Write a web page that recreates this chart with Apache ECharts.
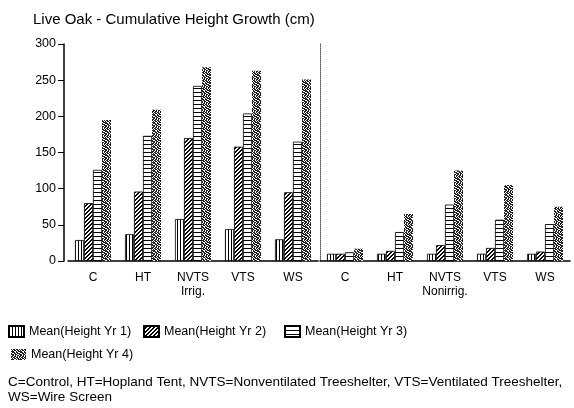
<!DOCTYPE html>
<html><head><meta charset="utf-8">
<script src="https://cdn.jsdelivr.net/npm/echarts@6/dist/echarts.min.js"></script>
<style>html,body{margin:0;padding:0;background:#fff}#c{width:574px;height:408px}</style>
</head><body><div id="c"></div>
<script>
const categories = ['C', 'HT', 'NVTS', 'VTS', 'WS'];
const groupLabels = ['Irrig.', 'Nonirrig.'];
const seriesNames = ['Mean(Height Yr 1)', 'Mean(Height Yr 2)', 'Mean(Height Yr 3)', 'Mean(Height Yr 4)'];
const yTicks = [0, 50, 100, 150, 200, 250, 300];
const irrigYr1 = [29, 37, 58, 44, 30];
const irrigYr2 = [80, 96, 170, 158, 95];
const irrigYr3 = [126, 173, 242, 204, 165];
const irrigYr4 = [195, 209, 268, 263, 251];
const nonirrigYr1 = [10, 10, 10, 10, 10];
const nonirrigYr2 = [10, 14, 22, 18, 13];
const nonirrigYr3 = [12, 40, 78, 57, 51];
const nonirrigYr4 = [17, 65, 125, 105, 75];
const title = 'Live Oak - Cumulative Height Growth (cm)';
const footnote = 'C=Control, HT=Hopland Tent, NVTS=Nonventilated Treeshelter, VTS=Ventilated Treeshelter,\nWS=Wire Screen';

function makePattern(w, h, draw) {
  const cv = document.createElement('canvas');
  cv.width = w; cv.height = h;
  const ctx = cv.getContext('2d');
  ctx.fillStyle = '#fff'; ctx.fillRect(0, 0, w, h);
  ctx.fillStyle = '#000';
  draw(ctx);
  return { image: cv, repeat: 'repeat' };
}
const pat1 = makePattern(3, 2, c => { c.fillRect(0, 0, 1, 2); });
const pat2 = makePattern(4, 4, c => {
  c.fillRect(3, 0, 1, 1); c.fillRect(2, 1, 1, 1); c.fillRect(1, 2, 1, 1); c.fillRect(0, 3, 1, 1);
  c.fillRect(2, 0, 1, 1); c.fillRect(1, 1, 1, 1); c.fillRect(0, 2, 1, 1); c.fillRect(3, 3, 1, 1);
});
const pat3 = makePattern(4, 4, c => { c.fillRect(0, 0, 4, 1); });
const stipple = [
  [1,0,1,1,0,1,1,0],
  [0,1,0,1,1,0,1,1],
  [1,1,1,0,0,1,0,1],
  [0,1,1,1,0,1,1,0],
  [1,0,0,1,1,0,1,1],
  [1,1,1,0,1,1,0,0],
  [0,1,1,0,1,0,1,1],
  [1,1,0,1,1,0,1,0]
];
const pat4 = makePattern(8, 8, c => {
  c.fillStyle = '#222';
  stipple.forEach((row, y) => row.forEach((v, x) => { if (v) c.fillRect(x, y, 1, 1); }));
});
const patterns = [pat1, pat2, pat3, pat4];

const irrig = [irrigYr1, irrigYr2, irrigYr3, irrigYr4];
const nonirrig = [nonirrigYr1, nonirrigYr2, nonirrigYr3, nonirrigYr4];

const font = 'Liberation Sans, Arial, sans-serif';
const labelFmt = (grp) => (v) => v === 'NVTS' ? 'NVTS\n' + grp : v;

const series = [];
[irrig, nonirrig].forEach((grpData, gi) => {
  grpData.forEach((arr, si) => {
    series.push({
      type: 'bar', name: seriesNames[si],
      xAxisIndex: gi, yAxisIndex: gi,
      data: arr, barWidth: 9, barGap: '0%',
      itemStyle: { color: patterns[si], borderColor: '#000', borderWidth: si === 3 ? 0 : 0.8 },
      emphasis: { disabled: true }
    });
  });
});

const legendBase = {
  icon: 'rect', itemWidth: 15, itemHeight: 11, itemGap: 6, padding: 0,
  textStyle: { fontFamily: font, fontSize: 12.5, color: '#000' },
  selectedMode: false
};

const chart = echarts.init(document.getElementById('c'), null, { renderer: 'canvas' });
chart.setOption({
  animation: false,
  backgroundColor: '#fff',
  title: { text: title, left: 28, top: 7,
    textStyle: { fontFamily: font, fontSize: 15, fontWeight: 'normal', color: '#000' } },
  grid: [
    { left: 68, width: 250, top: 44, height: 217 },
    { left: 320, width: 250, top: 44, height: 217 }
  ],
  xAxis: [0, 1].map(gi => ({
    type: 'category', gridIndex: gi, data: categories,
    axisLine: { lineStyle: { color: '#000', width: 1.5 } },
    axisTick: { show: false },
    axisLabel: { interval: 0, color: '#000', fontFamily: font, fontSize: 12, margin: 10, lineHeight: 14,
      formatter: labelFmt(groupLabels[gi]) }
  })),
  yAxis: [
    { type: 'value', gridIndex: 0, min: yTicks[0], max: yTicks[yTicks.length - 1], interval: 50, offset: 4,
      axisLine: { show: true, lineStyle: { color: '#000', width: 1.5 } },
      axisTick: { show: true, length: 6, lineStyle: { color: '#000' } },
      splitLine: { show: false },
      axisLabel: { color: '#000', fontFamily: font, fontSize: 12.5, margin: 8 } },
    { type: 'value', gridIndex: 1, min: yTicks[0], max: yTicks[yTicks.length - 1], interval: 50,
      axisLine: { show: true, lineStyle: { color: '#555', width: 1, type: [1, 1] } },
      axisTick: { show: false }, axisLabel: { show: false }, splitLine: { show: false } }
  ],
  legend: [
    Object.assign({ data: [seriesNames[0]], left: 8, top: 325 }, legendBase),
    Object.assign({ data: [seriesNames[1]], left: 143, top: 325 }, legendBase),
    Object.assign({ data: [seriesNames[2]], left: 284, top: 325 }, legendBase),
    Object.assign({ data: [seriesNames[3]], left: 11, top: 348 }, legendBase)
  ],
  graphic: [{
    type: 'text', left: 8, top: 375,
    style: { text: footnote, fontFamily: font, fontSize: 13.5, fill: '#000', lineHeight: 15 }
  }],
  series: series
});
</script></body></html>
